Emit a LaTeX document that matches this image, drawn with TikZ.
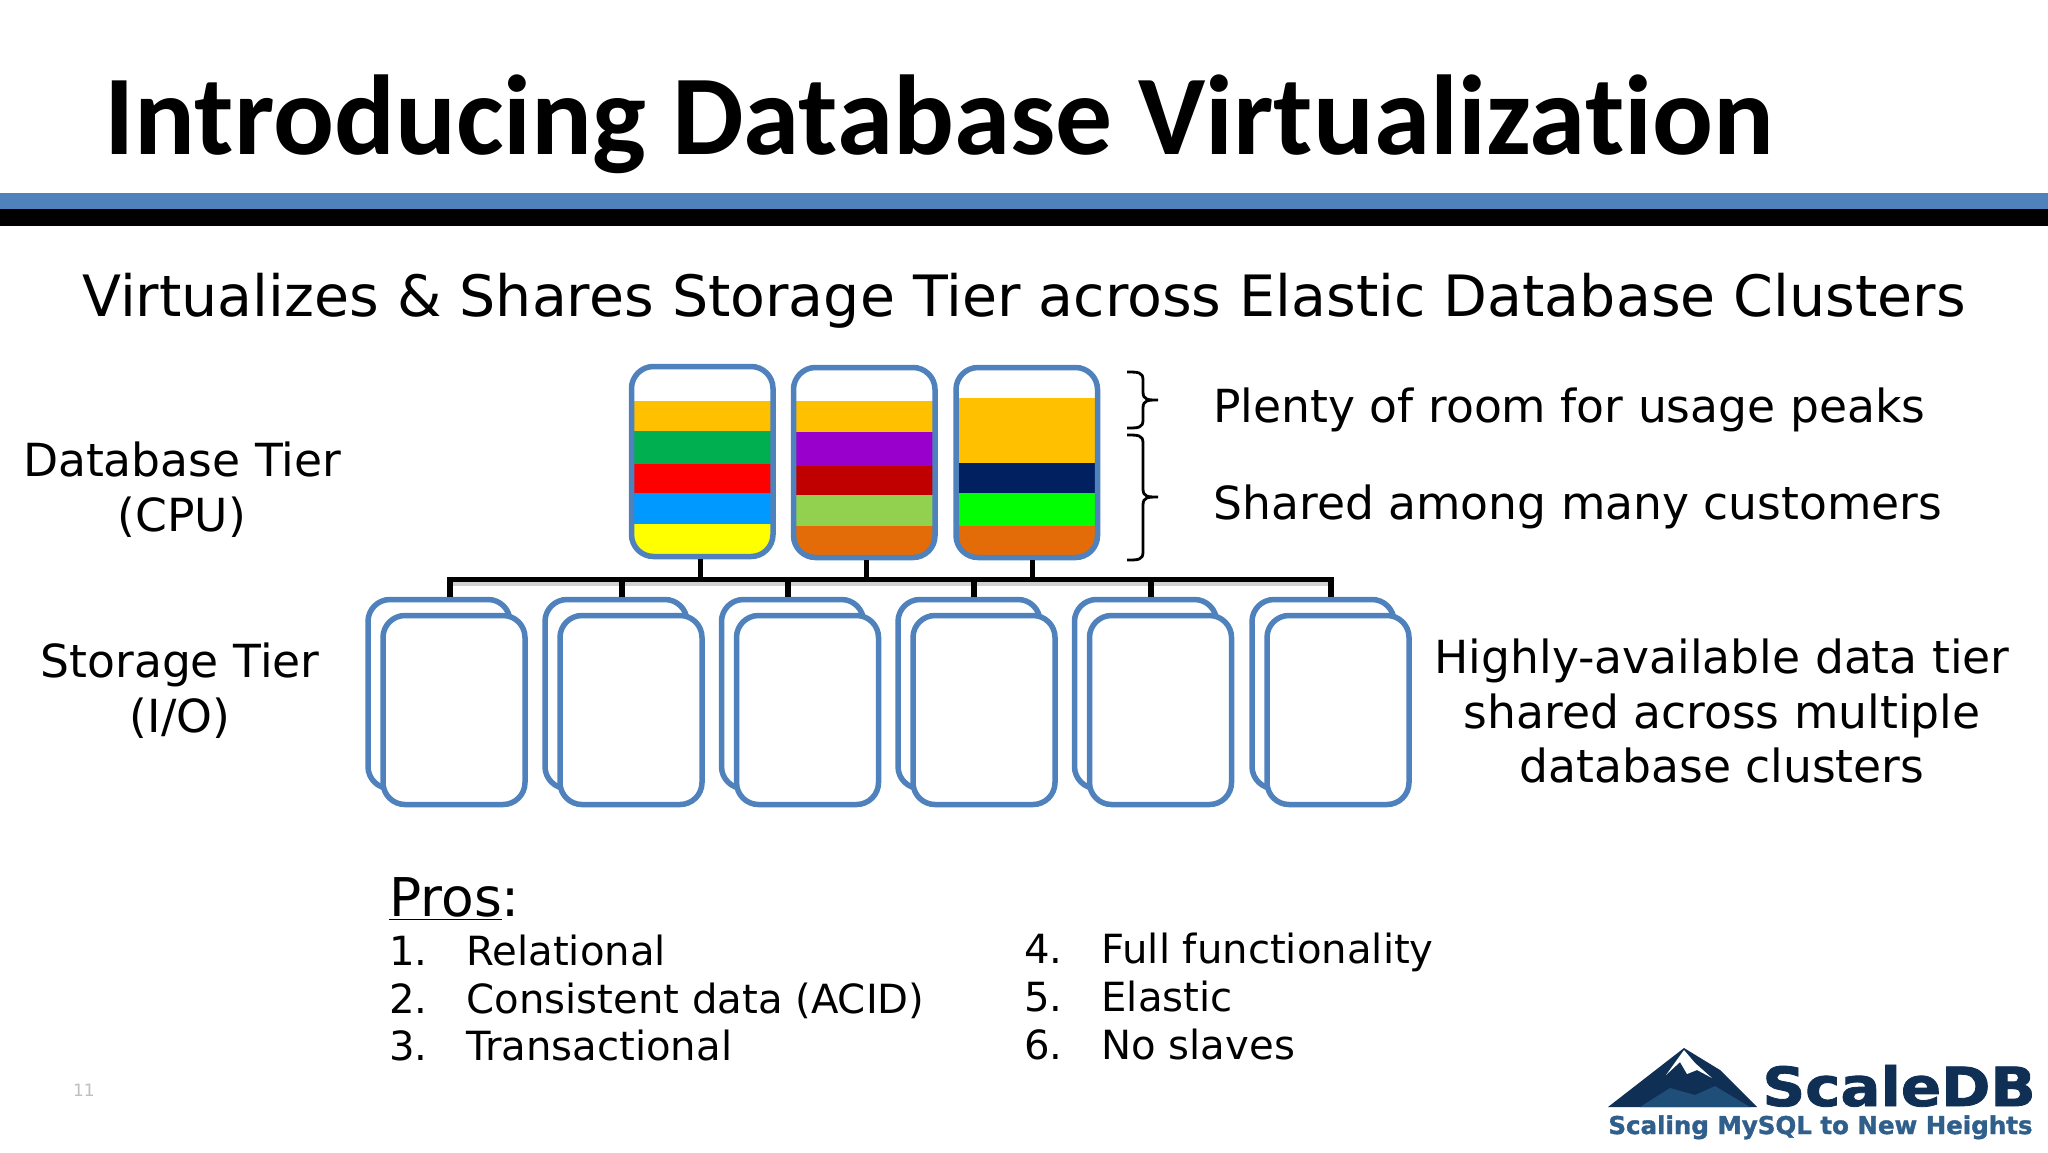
\documentclass[tikz,border=0pt]{standalone}
\usepackage{fontspec}
\setmainfont{DejaVu Sans}
\newfontfamily\titlefont[Ligatures=NoCommon]{Carlito}
\newfontfamily\logofont[BoldFeatures={FakeBold=1.5}]{DejaVu Sans}
\definecolor{slide}{HTML}{4F81BD}
\definecolor{amber}{HTML}{FFC000}
\definecolor{leaf}{HTML}{00B050}
\definecolor{scarlet}{HTML}{FF0000}
\definecolor{sky}{HTML}{0099FF}
\definecolor{lemon}{HTML}{FFFF00}
\definecolor{grape}{HTML}{9900CC}
\definecolor{wine}{HTML}{C00000}
\definecolor{lime}{HTML}{92D050}
\definecolor{neon}{HTML}{00FF00}
\definecolor{rust}{HTML}{E36C09}
\definecolor{navy}{HTML}{002060}
\definecolor{peak}{HTML}{0F2F55}
\definecolor{ridge}{HTML}{1F4E79}
\definecolor{tagline}{HTML}{2F5F8A}
\begin{document}
\begin{tikzpicture}[x=0.5pt,y=-0.5pt]
    \tikzstyle{srv}=[rectangle, draw=slide, line width=2.75pt, rounded corners=11pt, minimum width=70.75pt, minimum height=95pt, inner sep=0pt]
    \tikzstyle{stor}=[srv, fill=white, minimum width=71pt, minimum height=94.5pt]
    \tikzstyle{tier}=[line width=2.6pt, black, line cap=rect]
    \tikzstyle{brc}=[line width=1.4pt, black]
    \tikzstyle{txt}=[inner sep=0pt, font=\fontsize{22.8}{27.4}\selectfont, align=center]
    \tikzstyle{lst}=[inner sep=0pt, anchor=base west, font=\fontsize{20.1}{24}\selectfont]

    \useasboundingbox (0,0) rectangle (2048,1152);
    \fill[white] (0,0) rectangle (2048,1152);

    \node[inner sep=0pt, anchor=base west, font=\titlefont\bfseries\fontsize{56.8}{60}\selectfont] (title) at (104,154) {Introducing Database Virtualization};
    \fill[slide] (0,193) rectangle (2048,209);
    \fill[black] (0,209) rectangle (2048,226);
    \node[inner sep=0pt, anchor=base, font=\fontsize{28.5}{30}\selectfont] (sub) at (1024,316) {Virtualizes \& Shares Storage Tier across Elastic Database Clusters};

    \begin{scope}
        \clip[rounded corners=11pt] (631.5,366.5) rectangle (773,556.5);
        \foreach \ya/\yb/\col in {401/431/amber, 431/464/leaf, 464/493/scarlet, 493/524/sky, 524/557/lemon}
            \fill[\col] (631,\ya) rectangle (774,\yb);
    \end{scope}
    \begin{scope}
        \clip[rounded corners=11pt] (793.5,367.5) rectangle (935,557.5);
        \foreach \ya/\yb/\col in {401/432/amber, 432/466/grape, 466/495/wine, 495/526/lime, 526/558/rust}
            \fill[\col] (793,\ya) rectangle (936,\yb);
    \end{scope}
    \begin{scope}
        \clip[rounded corners=11pt] (956,367.5) rectangle (1097.5,557.5);
        \foreach \ya/\yb/\col in {398/463/amber, 463/493/navy, 493/526/neon, 526/558/rust}
            \fill[\col] (955,\ya) rectangle (1098,\yb);
    \end{scope}

    \node[srv] (cpu1) at (702.25,461.5) {};
    \node[srv] (cpu2) at (864.25,462.5) {};
    \node[srv] (cpu3) at (1026.75,462.5) {};

    \coordinate (busl) at (450,579.5);
    \coordinate (busr) at (1331,579.5);
    \fill[black!18] (450,582) rectangle (1331,586);
    \draw[tier] (busl) -- (busr);

    \foreach \i/\x in {1/700.6, 2/866.7, 3/1032.4} {
        \coordinate (stub\i) at (\x,579.5);
        \draw[tier, line cap=butt] (stub\i) -- (stub\i |- cpu\i.south);
    }

    \foreach \i/\x/\d in {1/439/450, 2/616/622, 3/792.5/788, 4/969/974, 5/1145.5/1151, 6/1323/1331} {
        \coordinate (drop\i) at (\d,579.5);
        \node[stor] (back\i) at (\x,694) {};
        \draw[tier, line cap=butt] (drop\i) -- (drop\i |- back\i.north);
        \node[stor] (front\i) at (\x+15,710) {};
    }

    \coordinate (upa) at (1127,372);
    \coordinate (upm) at (1158,400);
    \coordinate (upb) at (1127,428);
    \draw[brc] (upa) .. controls (1138,372) and (1143,372) .. (1143,380) -- (1143,392) .. controls (1143,400) and (1148,400) .. (upm) .. controls (1148,400) and (1143,400) .. (1143,408) -- (1143,420) .. controls (1143,428) and (1138,428) .. (upb);
    \coordinate (loa) at (1127,435);
    \coordinate (lom) at (1158,497);
    \coordinate (lob) at (1127,560);
    \draw[brc] (loa) .. controls (1138,435) and (1143,435) .. (1143,443) -- (1143,489) .. controls (1143,497) and (1148,497) .. (lom) .. controls (1148,497) and (1143,497) .. (1143,505) -- (1143,552) .. controls (1143,560) and (1138,560) .. (lob);

    \node[txt] (dbtier) at (182,490) {Database Tier\\(CPU)};
    \node[txt] (sttier) at (180,691) {Storage Tier\\(I/O)};
    \node[txt, anchor=base west] (peaks) at (1213,422) {Plenty of room for usage peaks};
    \node[txt, anchor=base west] (shared) at (1213,519) {Shared among many customers};
    \node[txt] (avail) at (1722,711) {Highly-available data tier\\shared across multiple\\database clusters};

    \node[inner sep=0pt, anchor=base west, font=\fontsize{26.7}{30}\selectfont] (pros) at (389,916) {\underline{Pros}:};
    \foreach \i/\y/\t in {1/965/Relational, 2/1013/Consistent data (ACID), 3/1060/Transactional} {
        \node[lst] (num\i) at (389,\y) {\i.};
        \node[lst] (pro\i) at (466,\y) {\t};
    }
    \foreach \i/\y/\t in {4/963/Full functionality, 5/1011/Elastic, 6/1059/No slaves} {
        \node[lst] (num\i) at (1024,\y) {\i.};
        \node[lst] (pro\i) at (1101,\y) {\t};
    }
    \node[inner sep=0pt, text=black!25, font=\fontsize{8.5}{10}\selectfont] (page) at (84,1090) {11};

    \fill[peak] (1608,1107) -- (1684,1048) -- (1720,1070) -- (1757,1107) -- cycle;
    \fill[white] (1684,1050) -- (1695,1063) -- (1712,1078) -- (1697,1070) -- (1687,1074) -- (1680,1062) -- (1666,1075) -- cycle;
    \fill[ridge] (1640,1107) -- (1670,1088) -- (1695,1095) -- (1715,1086) -- (1750,1107) -- cycle;
    \node[inner sep=0pt, anchor=base west, text=peak, font=\logofont\bfseries\fontsize{27}{30}\selectfont] (scaledb) at (1762,1106) {\scalebox{1.10}[1]{ScaleDB}};
    \node[inner sep=0pt, anchor=base west, text=tagline, font=\logofont\bfseries\fontsize{12.25}{14}\selectfont] (slogan) at (1608,1134) {Scaling MySQL to New Heights};
\end{tikzpicture}
\end{document}
